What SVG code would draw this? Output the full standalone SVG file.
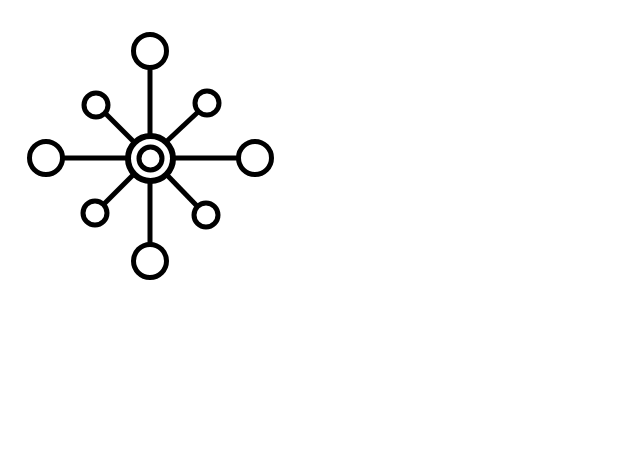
<svg xmlns="http://www.w3.org/2000/svg" width="628" height="471" viewBox="0 0 628 471">
<style>
.c{fill:#fff;stroke:#000;stroke-width:5}
.l{stroke:#000;stroke-width:5;stroke-linecap:butt}
</style>
<rect width="628" height="471" fill="#fff"/>
<g id="connectors">
<line class="l" x1="150" y1="69" x2="150" y2="134"/>
<line class="l" x1="150" y1="182" x2="150" y2="243"/>
<line class="l" x1="64" y1="158" x2="126" y2="158"/>
<line class="l" x1="174" y1="158" x2="237" y2="158"/>
<line class="l" x1="105" y1="113" x2="133" y2="141"/>
<line class="l" x1="198" y1="112" x2="167" y2="141"/>
<line class="l" x1="104" y1="204" x2="133" y2="175"/>
<line class="l" x1="197" y1="206" x2="167" y2="175"/>
</g>
<g id="hub"><circle cx="150.5" cy="158.5" r="22.5" fill="#fff" stroke="#000" stroke-width="6"/><circle class="c" cx="150.5" cy="158.5" r="11.5"/></g>
<g id="top"><circle class="c" cx="150" cy="51" r="16.5"/></g>
<g id="bottom"><circle class="c" cx="150" cy="261" r="16.5"/></g>
<g id="left"><circle class="c" cx="46" cy="158" r="16.5"/></g>
<g id="right"><circle class="c" cx="255" cy="158" r="16.5"/></g>
<g id="tl"><circle class="c" cx="96" cy="105" r="12"/></g>
<g id="tr"><circle class="c" cx="207" cy="103" r="12"/></g>
<g id="bl"><circle class="c" cx="95" cy="213" r="12"/></g>
<g id="br"><circle class="c" cx="206" cy="215" r="12"/></g>
</svg>
